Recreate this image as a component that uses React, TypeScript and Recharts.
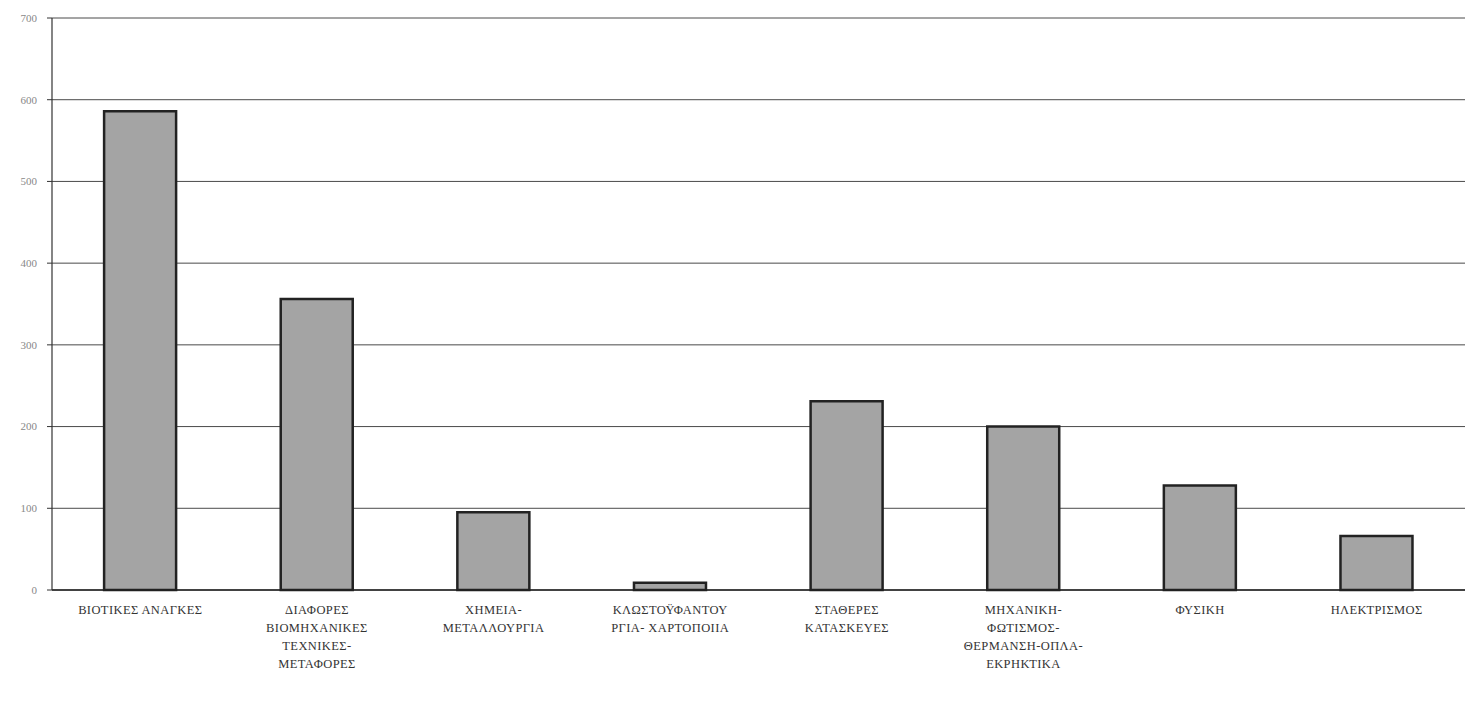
import React from "react";
import { BarChart, Bar, XAxis, YAxis, CartesianGrid } from "recharts";

const categories = [
  "ΒΙΟΤΙΚΕΣ ΑΝΑΓΚΕΣ",
  "ΔΙΑΦΟΡΕΣ\nΒΙΟΜΗΧΑΝΙΚΕΣ\nΤΕΧΝΙΚΕΣ-\nΜΕΤΑΦΟΡΕΣ",
  "ΧΗΜΕΙΑ-\nΜΕΤΑΛΛΟΥΡΓΙΑ",
  "ΚΛΩΣΤΟΫΦΑΝΤΟΥ\nΡΓΙΑ- ΧΑΡΤΟΠΟΙΙΑ",
  "ΣΤΑΘΕΡΕΣ\nΚΑΤΑΣΚΕΥΕΣ",
  "ΜΗΧΑΝΙΚΗ-\nΦΩΤΙΣΜΟΣ-\nΘΕΡΜΑΝΣΗ-ΟΠΛΑ-\nΕΚΡΗΚΤΙΚΑ",
  "ΦΥΣΙΚΗ",
  "ΗΛΕΚΤΡΙΣΜΟΣ",
];
const values = [586, 356, 95, 9, 231, 200, 128, 66];
const yTicks = [0, 100, 200, 300, 400, 500, 600, 700];

const data = categories.map((name, i) => ({ name, value: values[i] }));

const CategoryTick = ({ x, y, payload }: any) => {
  const lines = String(payload.value).split("\n");
  return (
    <text
      x={x}
      y={y + 16}
      textAnchor="middle"
      fontFamily="'Liberation Serif', 'DejaVu Serif', serif"
      fontSize={12.5}
      letterSpacing={0.4}
      fill="#333"
    >
      {lines.map((l, i) => (
        <tspan key={i} x={x} dy={i === 0 ? 0 : 18}>
          {l}
        </tspan>
      ))}
    </text>
  );
};

export default function App() {
  return (
    <div style={{ background: "#fff", width: 1471, height: 702 }}>
      <style>{"body{margin:0}"}</style>
      <BarChart
        width={1471}
        height={702}
        data={data}
        margin={{ top: 18, right: 6, left: 0, bottom: 0 }}
        barCategoryGap="29.5%"
      >
        <CartesianGrid yAxisId="left" vertical={false} stroke="#4a4a4a" strokeWidth={1} />
        <XAxis
          dataKey="name"
          interval={0}
          tick={<CategoryTick />}
          tickLine={false}
          axisLine={{ stroke: "#222", strokeWidth: 1.5 }}
          height={112}
        />
        <YAxis
          yAxisId="left"
          domain={[0, 700]}
          ticks={yTicks}
          width={52}
          tickSize={5}
          tickMargin={10}
          tick={{ fontSize: 11, fill: "#888", fontFamily: "'Liberation Serif', serif" }}
          tickLine={{ stroke: "#333" }}
          axisLine={{ stroke: "#333", strokeWidth: 1.2 }}
        />
        <YAxis
          yAxisId="right"
          orientation="right"
          domain={[0, 700]}
          width={0}
          tick={false}
          tickLine={false}
          axisLine={{ stroke: "#555" }}
        />
        <Bar
          yAxisId="left"
          dataKey="value"
          fill="#a4a4a4"
          stroke="#222"
          strokeWidth={2.5}
          isAnimationActive={false}
        />
      </BarChart>
    </div>
  );
}
